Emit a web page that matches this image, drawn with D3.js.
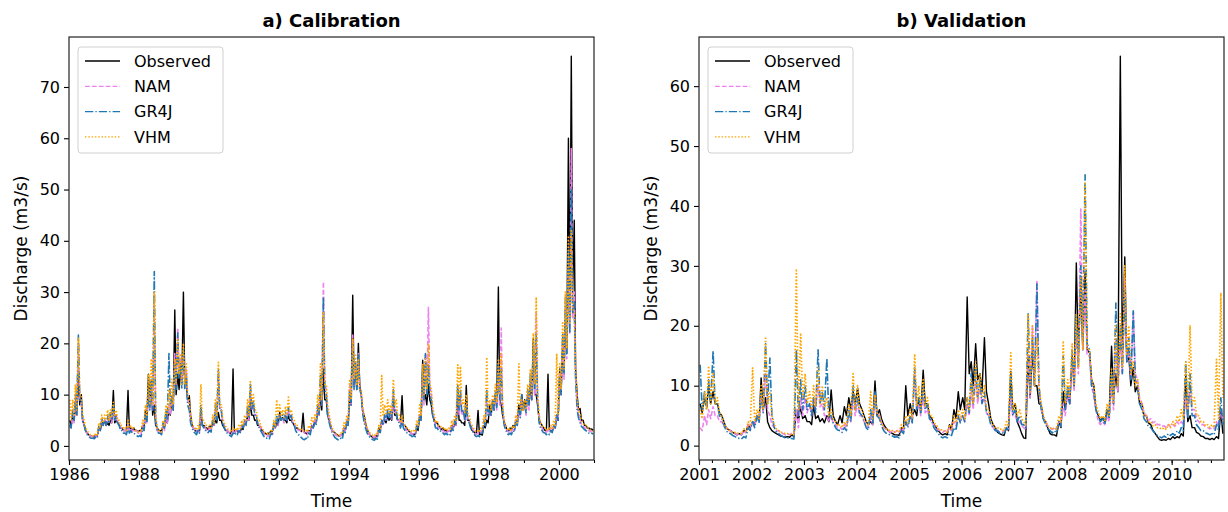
<!DOCTYPE html>
<html lang="en">
<head>
  <meta charset="UTF-8">
  <title>Calibration / Validation discharge</title>
  <script src="https://d3js.org/d3.v7.min.js"></script>
  <style>
    body { margin: 0; background: #fff; }
    text { font-family: "DejaVu Sans", sans-serif; fill: #000; }
  </style>
</head>
<body>
  <svg id="chart" width="1228" height="512"></svg>

  <script>
    // discharge (m3/s), one row per year, Jan..Dec.
    // *High = upper envelope within the month, *Low = base flow within the month
    const calYears = [1986, 1987, 1988, 1989, 1990, 1991, 1992, 1993, 1994, 1995, 1996, 1997, 1998, 1999, 2000];
    const calObsHigh = [
      [5, 6, 8, 14, 10, 4, 2.5, 2, 1.8, 2.2, 3.5, 4.5],
      [5, 4.5, 5, 10.8, 5, 4, 3.5, 3, 10.8, 3.5, 3.5, 3],
      [3, 4, 7, 14, 12.6, 8, 3.6, 3, 4, 5, 7, 9],
      [26.5, 14, 16, 30, 12, 9.8, 4, 3, 3, 7, 4, 3.5],
      [4, 4.5, 5, 6.5, 5, 3.5, 3, 2.5, 15, 3, 3, 3.5],
      [5, 6, 9, 6, 5, 4, 3, 2.5, 2.5, 3, 4, 4.5],
      [6.6, 5.5, 5, 6, 5, 4, 3.5, 3, 6.4, 2.5, 3, 4],
      [5, 7, 10, 15, 9, 5, 3, 2.5, 2, 2.2, 3.5, 4.5],
      [10, 29.4, 15, 20, 10, 5.9, 3, 2, 1.6, 2, 3.5, 5],
      [5, 6, 5.5, 9.5, 6, 5, 9.8, 4, 3, 2.5, 2.3, 3.5],
      [6, 16.7, 10, 12, 8, 5, 4.5, 3.5, 3.5, 3, 3, 4],
      [4.5, 10, 5, 4.5, 11.8, 5, 3, 2.5, 6.9, 2.3, 4, 5],
      [8, 9, 10, 31, 8, 4.5, 3, 3.5, 4, 5, 8, 10],
      [9, 10, 12, 20.9, 10, 5, 4, 3, 14, 3, 4, 6],
      [15, 20, 25, 60, 76, 44, 10, 7.3, 5, 4, 3.5, 3.3]
    ];
    const calObsLow = [
      [4, 5, 6, 8, 5, 3, 2.2, 1.9, 1.7, 2, 3, 4],
      [4, 4, 4.5, 4.5, 4.5, 3.5, 3, 2.8, 3, 3, 3, 2.8],
      [2.8, 3.5, 5, 8, 6, 4, 3, 2.8, 3.5, 4.5, 6, 7],
      [10, 11, 12, 13, 9, 6, 3.5, 2.8, 2.8, 4, 3.5, 3.2],
      [3.5, 4, 4.5, 5, 4, 3, 2.7, 2.3, 2.5, 2.8, 2.8, 3.2],
      [4.5, 5, 6, 5, 4, 3.5, 2.7, 2.3, 2.3, 2.8, 3.5, 4],
      [5, 5, 4.5, 5, 4.5, 3.5, 3.2, 2.8, 2.6, 2.3, 2.8, 3.5],
      [4.5, 6, 7, 9, 6, 4, 2.8, 2.3, 1.9, 2, 3, 4],
      [8, 12, 11, 12, 7, 4.5, 2.7, 1.9, 1.5, 1.8, 3, 4.5],
      [4.5, 5, 5, 6, 5, 4.5, 4, 3.5, 2.8, 2.3, 2.2, 3],
      [5, 9, 8, 9, 6, 4.5, 4, 3.2, 3, 2.8, 2.8, 3.5],
      [4, 5, 4.5, 4, 5, 4, 2.8, 2.3, 2.2, 2.1, 3.5, 4.5],
      [6, 7, 8, 9, 6, 4, 2.8, 3, 3.5, 4.5, 6, 7],
      [7, 8, 9, 10, 8, 4.5, 3.5, 2.8, 3, 2.8, 3.5, 5],
      [10, 14, 18, 25, 30, 15, 7, 5, 4, 3.5, 3.2, 3]
    ];
    const calNamHigh = [
      [4, 6, 9, 20, 8, 4, 2.5, 2, 1.8, 2, 3.5, 5],
      [5, 5.5, 6, 7, 6, 4.5, 3.5, 3, 4, 3.5, 3, 3],
      [2.5, 4, 6, 10, 12, 28, 3, 2.5, 4, 6, 8, 10],
      [18, 23, 17, 18, 15, 8, 4, 3, 3, 6, 4, 3],
      [3.5, 5, 7, 14, 7, 4, 3, 2.5, 3, 3, 3, 4],
      [5, 7, 11, 8, 6, 4, 3, 2, 2, 2.5, 4, 5],
      [6, 5.5, 6, 7, 6, 4.5, 3.5, 3, 3, 2.5, 3, 4],
      [5, 8, 13, 32, 11, 5, 3, 2.3, 2, 2.2, 3.5, 5],
      [12, 21.6, 16, 18, 10, 5, 3, 2, 1.8, 2, 3, 4.5],
      [6, 7, 6.5, 10, 7, 5, 5, 3.5, 3, 2.5, 2.5, 4],
      [6, 14, 18, 27, 10, 5, 4, 3.5, 3, 3, 3, 4],
      [5, 11, 10, 7, 8, 5, 3.5, 2.5, 2.5, 3, 5, 10],
      [7, 9, 10, 14, 23, 4.5, 3, 3, 3.5, 5, 7, 9],
      [8, 10, 13, 18, 26, 5, 3.5, 3, 3, 3.5, 4, 6],
      [14, 20, 28, 35, 58, 30, 8, 5, 4, 3.5, 3, 3]
    ];
    const calNamLow = [
      [3.5, 4.5, 6, 9, 5, 3, 2.2, 1.8, 1.6, 1.8, 3, 4],
      [4, 4.5, 4.5, 5, 4.5, 3.5, 3, 2.7, 3, 3, 2.7, 2.5],
      [2.3, 3, 4.5, 7, 7, 6, 2.7, 2.3, 3, 4.5, 6, 7],
      [12, 14, 12, 12, 9, 5, 3.5, 2.7, 2.7, 4, 3.5, 2.8],
      [3, 4, 5, 7, 5, 3.5, 2.7, 2.3, 2.5, 2.6, 2.7, 3.5],
      [4, 5, 7, 6, 4.5, 3.5, 2.5, 1.8, 1.8, 2.2, 3.5, 4],
      [5, 4.5, 5, 5.5, 4.5, 3.5, 3, 2.7, 2.5, 2.2, 2.7, 3.5],
      [4.5, 6, 8, 12, 7, 4, 2.6, 2, 1.8, 2, 3, 4],
      [8, 12, 11, 11, 7, 4, 2.6, 1.8, 1.6, 1.8, 2.7, 4],
      [5, 5.5, 5, 6.5, 5, 4, 4, 3, 2.7, 2.3, 2.3, 3.5],
      [5, 8, 10, 12, 7, 4, 3.5, 3, 2.7, 2.7, 2.7, 3.5],
      [4, 6, 6, 5, 5, 4, 3, 2.3, 2.3, 2.6, 4, 6],
      [6, 7, 7, 8, 7, 3.5, 2.7, 2.7, 3, 4, 5.5, 7],
      [6, 7, 9, 10, 9, 4, 3, 2.7, 2.7, 3, 3.5, 5],
      [10, 13, 17, 22, 25, 14, 6, 4.2, 3.5, 3.2, 2.8, 2.7]
    ];
    const calGr4jHigh = [
      [4, 7, 10, 21.6, 9, 4, 2.2, 1.6, 1.5, 1.8, 4, 5.5],
      [5, 6, 6.5, 8, 6, 4, 3, 2.5, 3.5, 3, 2.5, 2],
      [2, 3.5, 6, 11, 13, 34, 3, 2.5, 4.5, 7, 18, 10],
      [16, 22, 16, 19, 14, 7, 3.5, 2.5, 3, 8, 3.5, 3],
      [3, 5, 8, 15, 7, 3.5, 2.5, 2, 2.5, 2.5, 3, 4],
      [5, 8, 12, 9, 6, 3.5, 2.5, 1.6, 1.6, 2.5, 4.5, 6],
      [6, 6, 6.5, 7.5, 6, 4, 2.5, 1.8, 1.3, 1.5, 2.5, 4],
      [4.5, 8, 14, 29, 10, 4.5, 2.5, 1.6, 1.2, 1.5, 3, 5],
      [11, 20, 17, 18, 10, 4.5, 2.5, 1.6, 1.2, 1.5, 3, 5],
      [6, 7, 7, 11, 7, 4.5, 5, 3, 2.5, 2, 2, 4],
      [6, 15, 18, 16, 9, 4.5, 3.5, 3, 2.5, 2.5, 2.5, 3.5],
      [5, 12, 11, 7, 8, 4.5, 3, 2, 2, 2.5, 5, 11],
      [7, 9, 11, 16, 15, 4, 2.5, 2.5, 3, 5, 7, 10],
      [8, 11, 14, 20, 22, 4.5, 3, 2.5, 2.5, 3, 4, 6],
      [13, 22, 29, 38, 50, 28, 7, 4.5, 3.5, 3, 2.5, 2.5]
    ];
    const calGr4jLow = [
      [3.5, 5, 6, 9, 5, 3, 1.9, 1.5, 1.4, 1.6, 3, 4],
      [4, 4.5, 5, 5, 4.5, 3, 2.5, 2.2, 2.5, 2.5, 2.2, 1.8],
      [1.8, 3, 4.5, 7, 7, 5, 2.5, 2.2, 3.5, 5, 8, 7],
      [11, 13, 11, 11, 8, 4.5, 2.8, 2.2, 2.5, 4, 3, 2.6],
      [2.7, 4, 5, 7, 4.5, 3, 2.2, 1.8, 2.1, 2.2, 2.6, 3.5],
      [4, 5.5, 7, 6, 4.5, 3, 2, 1.5, 1.4, 2, 3.5, 4.5],
      [5, 5, 5, 5.5, 4.5, 3, 2.2, 1.6, 1.2, 1.3, 2.2, 3.5],
      [4, 6, 8, 11, 6, 3.5, 2.1, 1.4, 1.1, 1.3, 2.6, 4],
      [8, 11, 11, 11, 6.5, 3.5, 2.1, 1.4, 1.1, 1.3, 2.6, 4],
      [5, 5.5, 5.5, 7, 5, 3.5, 3.5, 2.6, 2.2, 1.8, 1.8, 3.2],
      [5, 9, 10, 10, 6, 3.5, 3, 2.6, 2.2, 2.2, 2.2, 3],
      [4, 7, 6.5, 5, 5, 3.5, 2.5, 1.8, 1.8, 2.2, 4, 6],
      [6, 7, 7.5, 9, 7, 3.2, 2.2, 2.2, 2.7, 4, 5.5, 7],
      [6.5, 8, 9, 11, 9, 3.5, 2.6, 2.2, 2.2, 2.6, 3.5, 5],
      [10, 14, 18, 22, 26, 13, 5.5, 3.8, 3.2, 2.7, 2.3, 2.3]
    ];
    const calVhmHigh = [
      [9, 9, 12, 21, 10, 5, 3, 2.2, 2, 2.5, 4.5, 6],
      [6, 7, 7, 8.5, 7, 5, 4, 3.5, 5, 4, 3.5, 3],
      [3, 5, 8, 14, 17, 30, 3.5, 3, 5, 8, 11, 13],
      [17, 21, 18, 20, 16, 9, 4.5, 3.5, 4, 12, 5, 4],
      [4, 6, 9, 16.3, 8, 4.5, 3.5, 3, 3.5, 3.5, 4, 5],
      [6, 9, 12.8, 10, 7, 5, 3.5, 2.5, 2.5, 3, 5, 9],
      [8, 7, 7.5, 9.5, 7, 5, 4, 3.5, 3, 3, 4, 5.5],
      [6, 10, 16, 26, 12, 6, 3.5, 2.5, 2.3, 2.5, 4.5, 6],
      [13, 21, 18, 17, 11, 6, 3.5, 2.5, 2, 2.5, 4, 13.7],
      [8, 9, 8, 13, 9, 6, 6, 4, 3.5, 3, 3, 5],
      [8, 16, 17, 20, 11, 6, 5, 4, 3.5, 3.5, 3.5, 5],
      [6, 15.8, 15.5, 9, 10, 6, 4, 3, 3, 3.5, 6, 17.3],
      [9, 10, 12, 17, 18, 5, 3.5, 3.5, 4, 6, 16, 9],
      [9, 12, 15, 22, 29, 6, 4, 3.5, 3.5, 4, 5, 18],
      [16, 24, 30, 41, 42, 26, 9, 6, 4.5, 4, 3.5, 3]
    ];
    const calVhmLow = [
      [5, 6, 7, 10, 6, 3.5, 2.6, 2.1, 1.9, 2.2, 3.5, 4.5],
      [5, 5, 5.5, 6, 5, 4, 3.3, 3, 3.5, 3.3, 3, 2.7],
      [2.7, 4, 6, 8, 8, 6, 3, 2.7, 4, 6, 7, 8],
      [12, 14, 12, 12, 10, 6, 3.8, 3.1, 3.3, 5, 4, 3.5],
      [3.5, 4.5, 6, 8, 5.5, 3.8, 3.1, 2.7, 3, 3, 3.4, 4],
      [5, 6, 8, 7, 5, 4, 3, 2.3, 2.3, 2.7, 4, 5.5],
      [6, 5.5, 6, 6.5, 5.5, 4, 3.4, 3.1, 2.8, 2.7, 3.4, 4.5],
      [5, 7, 9, 12, 8, 4.5, 3, 2.3, 2.1, 2.3, 3.5, 5],
      [9, 13, 12, 11, 7.5, 4.5, 3, 2.3, 1.9, 2.2, 3.4, 6],
      [6, 6.5, 6, 8, 6, 4.5, 4.5, 3.5, 3, 2.7, 2.7, 4],
      [6, 10, 11, 12, 7.5, 4.5, 4, 3.5, 3.1, 3.1, 3.1, 4],
      [5, 8, 8, 6.5, 6.5, 4.5, 3.5, 2.7, 2.7, 3.1, 4.5, 7],
      [7, 8, 8.5, 10, 8, 4, 3, 3.1, 3.4, 4.5, 7, 7],
      [7, 9, 10, 12, 10, 4.5, 3.5, 3.1, 3.1, 3.4, 4, 6],
      [11, 15, 19, 24, 27, 15, 7, 5, 4, 3.5, 3.1, 2.8]
    ];

    const valYears = [2001, 2002, 2003, 2004, 2005, 2006, 2007, 2008, 2009, 2010];
    const valObsHigh = [
      [7, 8, 10, 9, 7, 5, 3, 2.5, 2, 2, 2.5, 3.5],
      [4, 5, 11.3, 8, 3, 2.2, 1.8, 1.5, 1.5, 1.8, 6, 6.5],
      [5, 4, 6.8, 5, 4.5, 5, 9.3, 4, 5, 6.5, 8, 9],
      [9.6, 6, 4, 4, 10.8, 6, 3.5, 2.5, 2, 1.8, 3, 10],
      [7, 6, 8, 12.6, 7, 4.5, 3, 2, 2, 3.5, 6, 9],
      [8, 24.8, 14, 17, 12, 18, 6.8, 3.5, 2.2, 1.8, 3, 12.4],
      [7, 3, 1.3, 15, 16, 10, 6.8, 4, 2, 1.8, 4, 9],
      [9, 15, 30.5, 27.5, 29, 15.5, 10, 5, 4.6, 6, 16.6, 12],
      [65, 31.5, 15, 13, 10, 7, 5, 3.5, 2, 1, 1, 1.2],
      [1.5, 1.5, 2, 11.9, 5, 3, 2, 1.5, 1.2, 1.2, 1.5, 6]
    ];
    const valObsLow = [
      [5.5, 6.5, 7, 7, 5.5, 4, 2.7, 2.2, 1.8, 1.8, 2.2, 3],
      [3.5, 4, 6, 4, 2.5, 2, 1.6, 1.4, 1.4, 1.5, 4, 4.5],
      [4, 3.5, 4.5, 4, 3.8, 4, 5, 3.5, 3.8, 5, 6, 7],
      [7, 5, 3.5, 3.5, 5, 4.5, 3, 2.2, 1.8, 1.7, 2.5, 5],
      [5, 5, 5.5, 7, 5, 3.5, 2.5, 1.8, 1.8, 2.5, 4.5, 6],
      [6, 12, 10, 11, 9, 9, 4.5, 3, 2, 1.7, 2.5, 6],
      [4, 2, 1.2, 8, 10, 7, 4.5, 3, 1.8, 1.6, 3, 6],
      [7, 10, 15, 16, 16, 11, 6, 4.2, 4, 5, 8, 9],
      [15, 14, 10, 9, 7, 5, 3.8, 2.6, 1.5, 0.9, 0.9, 1],
      [1.2, 1.3, 1.6, 4, 3, 2.2, 1.6, 1.2, 1, 1, 1.2, 2]
    ];
    const valNamHigh = [
      [3, 5, 6, 6.5, 5, 4, 3, 2.5, 2, 2, 2.5, 3.5],
      [4, 5, 8, 12, 5, 3, 2.5, 2, 2, 2, 6, 8],
      [8, 7, 8, 10, 7, 5, 5, 3.5, 3, 3.5, 5, 8],
      [7, 5, 3.5, 5, 8, 5, 3, 2.5, 2.5, 2.5, 3, 4],
      [5, 12, 7, 8, 6, 4, 3, 2.5, 2.5, 3, 4, 5],
      [5, 7, 9, 11, 10, 8, 5, 3, 2.5, 2.5, 3, 8],
      [5, 4, 3, 16, 20, 27.4, 6, 4, 3, 3, 4, 7],
      [9, 14, 20, 39.5, 26, 15, 8, 4, 4, 5, 10, 18],
      [18, 28, 16, 22.5, 11, 7, 5, 4.5, 4, 3.5, 3.3, 3.5],
      [3.5, 4, 4, 8, 10, 6, 4, 3.5, 3, 3, 4, 6]
    ];
    const valNamLow = [
      [2.5, 3.5, 4.5, 5, 4, 3.2, 2.5, 2.1, 1.8, 1.8, 2.2, 3],
      [3.2, 4, 5.5, 6, 3.5, 2.5, 2.1, 1.8, 1.8, 1.8, 3, 5],
      [5.5, 5, 6, 6.5, 5, 4, 3.8, 3, 2.7, 3, 4, 5],
      [5, 4, 3, 3.5, 5, 3.8, 2.7, 2.2, 2.2, 2.2, 2.6, 3.3],
      [4, 6, 5, 5.5, 4.5, 3.3, 2.6, 2.2, 2.2, 2.6, 3.3, 4],
      [4, 5, 6, 7, 7, 5.5, 3.8, 2.7, 2.3, 2.3, 2.7, 5],
      [4, 3.3, 2.7, 8, 10, 10, 4.5, 3.3, 2.7, 2.7, 3.3, 5],
      [7, 9, 12, 16, 15, 10, 6, 3.5, 3.5, 4, 6, 9],
      [12, 14, 11, 12, 8, 5.5, 4.2, 3.8, 3.5, 3.2, 3, 3.2],
      [3.2, 3.5, 3.5, 5, 6, 4.5, 3.5, 3.2, 2.8, 2.8, 3.3, 4]
    ];
    const valGr4jHigh = [
      [13.5, 9, 11, 15.8, 7, 4.5, 2.5, 2, 1.5, 1.2, 1.5, 3],
      [4, 5, 9, 17, 14.6, 3, 2, 1.5, 1.3, 1.2, 16, 11],
      [10, 7, 8, 16, 9, 14.6, 5, 3, 2.5, 3, 6, 10],
      [8, 5, 3, 6, 9, 4.5, 2.5, 2, 1.6, 1.5, 2.5, 4],
      [5, 13, 8, 10, 7, 4, 2.5, 1.5, 1.5, 2, 3, 5],
      [5, 8, 12, 13, 11, 9, 5, 3, 2.5, 2.2, 3, 12],
      [6, 5, 3.5, 22, 18, 27, 6, 3.5, 2.5, 2.5, 4, 15],
      [10, 16, 22, 30, 45.2, 16, 9, 5, 4.5, 6, 12, 23.8],
      [20, 26, 18, 22.5, 10, 6, 4, 3, 2, 1.5, 1.6, 2],
      [2, 2.5, 3, 14, 12, 5, 3, 2.5, 2, 2, 3.5, 8]
    ];
    const valGr4jLow = [
      [6, 6, 7, 7, 5, 3.5, 2.1, 1.7, 1.3, 1.1, 1.3, 2.5],
      [3, 3.8, 5.5, 7, 5, 2.3, 1.7, 1.3, 1.2, 1.1, 5, 6],
      [6, 5, 5.5, 7, 6, 5, 3.8, 2.6, 2.2, 2.5, 4, 6],
      [5.5, 4, 2.6, 3.8, 5, 3.3, 2.1, 1.7, 1.4, 1.3, 2, 3],
      [3.8, 6, 5.5, 6, 4.5, 3, 2, 1.3, 1.3, 1.7, 2.5, 3.8],
      [4, 5.5, 7, 8, 7, 5.5, 3.5, 2.5, 2.1, 1.9, 2.5, 5],
      [4, 3.5, 3, 9, 10, 10, 4.5, 2.8, 2.1, 2.1, 3.2, 6],
      [7, 10, 13, 17, 17, 10, 6, 4, 3.5, 4.5, 7, 10],
      [12, 14, 11, 11, 7, 4.5, 3.2, 2.5, 1.7, 1.3, 1.4, 1.7],
      [1.7, 2.1, 2.5, 4.5, 5, 3.5, 2.5, 2.1, 1.8, 1.8, 2.6, 3.5]
    ];
    const valVhmHigh = [
      [6, 9, 13.3, 12, 8, 5, 3, 2.5, 2.2, 2.2, 2.8, 4],
      [13, 6, 10, 18.2, 9, 3.5, 2.5, 2.2, 2, 2, 29.5, 18.8],
      [12, 9, 10, 13, 10, 8, 6, 4, 3.5, 4, 7, 12],
      [10, 6, 4, 9, 8.5, 5, 3, 2.8, 2.5, 2.5, 3.5, 5],
      [6, 15.3, 10, 11, 8, 5, 3.5, 2.8, 2.5, 3.5, 5, 6],
      [6, 8, 11, 14, 12, 10, 6, 3.5, 3, 2.8, 4, 15.5],
      [7, 6, 4, 22, 20, 18, 7, 4, 3, 3, 5, 17.5],
      [11, 17, 22, 28, 44, 16, 10, 5.5, 5, 7, 13, 20],
      [22, 30, 20, 14, 11, 7, 5, 4, 3.5, 3, 3, 3.5],
      [4, 5, 6, 14, 20.1, 8, 5, 4, 3.5, 3.5, 14.4, 25.5]
    ];
    const valVhmLow = [
      [4.5, 6, 7, 7, 5.5, 3.8, 2.6, 2.2, 2, 2, 2.4, 3.2],
      [4, 4.5, 6, 7, 5, 2.8, 2.2, 2, 1.8, 1.8, 6, 8],
      [7, 6, 6.5, 7, 6.5, 5, 4.5, 3.3, 3, 3.3, 5, 6],
      [6, 4.5, 3.3, 4.5, 5.5, 3.8, 2.7, 2.4, 2.2, 2.2, 2.8, 3.8],
      [4.5, 6.5, 6, 6.5, 5, 3.8, 2.8, 2.4, 2.2, 2.8, 3.8, 4.5],
      [4.5, 6, 7, 8, 8, 6, 4.2, 3, 2.7, 2.5, 3.2, 6],
      [5, 4.5, 3.5, 9, 10, 10, 5, 3.3, 2.7, 2.7, 3.8, 7],
      [8, 10, 13, 16, 16, 11, 7, 4.5, 4.2, 5, 7, 10],
      [13, 15, 12, 10, 7.5, 5, 4, 3.3, 3, 2.7, 2.7, 3],
      [3.3, 4, 4.5, 6, 7, 5, 4, 3.3, 3, 3, 4.5, 8]
    ];

    const seriesNames = ["Observed", "NAM", "GR4J", "VHM"];
    const calTicksY = [0, 10, 20, 30, 40, 50, 60, 70];
    const valTicksY = [0, 10, 20, 30, 40, 50, 60];

    // "width" is the legend sample, "plotWidth" the data line
    const styles = {
      Observed: { color: "#000000", width: 1.3, plotWidth: 1.4, dash: null },
      NAM:      { color: "#ee82ee", width: 1.3, plotWidth: 1.6, dash: "4.8,2.1" },
      GR4J:     { color: "#1f77b4", width: 1.3, plotWidth: 1.6, dash: "8.3,2.1,1.3,2.1" },
      VHM:      { color: "#ffa500", width: 1.3, plotWidth: 1.7, dash: "1.5,1.8" }
    };

    const svg = d3.select("#chart");

    // each month gives two points: its high early on, its base flow later
    const toPoints = (years, highs, lows) =>
      highs.flatMap((row, i) => row.flatMap((v, m) => [
        { t: new Date(years[i], m, 9), v },
        { t: new Date(years[i], m, 23), v: lows[i][m] }
      ]));

    function drawPanel(opt) {
      const { left, right, top, bottom } = opt;
      const g = svg.append("g");

      const x = d3.scaleTime().domain(opt.xDomain).range([left, right]);
      const y = d3.scaleLinear().domain(opt.yDomain).range([bottom, top]);

      g.append("clipPath").attr("id", opt.id + "-clip")
        .append("rect").attr("x", left).attr("y", top)
        .attr("width", right - left).attr("height", bottom - top);

      const line = d3.line().x(d => x(d.t)).y(d => y(d.v));
      const lines = g.append("g").attr("clip-path", `url(#${opt.id}-clip)`);

      opt.series.forEach(([highs, lows], i) => {
        const s = styles[seriesNames[i]];
        lines.append("path")
          .datum(toPoints(opt.years, highs, lows))
          .attr("fill", "none")
          .attr("stroke", s.color)
          .attr("stroke-width", s.plotWidth)
          .attr("stroke-dasharray", s.dash)
          .attr("stroke-linejoin", "round")
          .attr("d", line);
      });

      // axes
      const yAxis = g.append("g").attr("transform", `translate(${left},0)`)
        .call(d3.axisLeft(y).tickValues(opt.yTicks).tickSize(5).tickPadding(4));
      const xAxis = g.append("g").attr("transform", `translate(0,${bottom})`)
        .call(d3.axisBottom(x).tickValues(opt.xMajor).tickSize(5).tickPadding(4)
          .tickFormat(d3.timeFormat("%Y")));
      const xMinor = g.append("g").attr("transform", `translate(0,${bottom})`)
        .call(d3.axisBottom(x).tickValues(opt.xMinor).tickSize(3).tickFormat(""));

      [yAxis, xAxis, xMinor].forEach(a => {
        a.select(".domain").remove();
        a.selectAll("line").attr("stroke", "#000").attr("stroke-width", 1.1);
        a.selectAll("text").style("font-size", "16px").attr("fill", "#111");
      });

      g.append("rect")
        .attr("x", left).attr("y", top)
        .attr("width", right - left).attr("height", bottom - top)
        .attr("fill", "none").attr("stroke", "#222").attr("stroke-width", 1.2);

      g.append("text")
        .attr("x", (left + right) / 2).attr("y", 27)
        .attr("text-anchor", "middle")
        .style("font-size", "18px").style("font-weight", "bold")
        .text(opt.title);

      g.append("text")
        .attr("x", (left + right) / 2).attr("y", 507)
        .attr("text-anchor", "middle")
        .style("font-size", "17px")
        .text("Time");

      g.append("text")
        .attr("transform", `translate(${left - 42},${(top + bottom) / 2}) rotate(-90)`)
        .attr("text-anchor", "middle")
        .style("font-size", "17px")
        .text("Discharge (m3/s)");

      // legend
      const lg = g.append("g").attr("transform", `translate(${left + 9},${top + 10})`);
      lg.append("rect")
        .attr("width", 145).attr("height", 106).attr("rx", 3)
        .attr("fill", "#fff").attr("fill-opacity", 0.8)
        .attr("stroke", "#d0d0d0").attr("stroke-width", 1);
      const item = lg.selectAll(".item").data(seriesNames).join("g")
        .attr("class", "item")
        .attr("transform", (d, i) => `translate(0,${14 + i * 25.3})`);
      item.append("line")
        .attr("x1", 7).attr("x2", 42)
        .attr("stroke", d => styles[d].color)
        .attr("stroke-width", d => styles[d].width)
        .attr("stroke-dasharray", d => styles[d].dash);
      item.append("text")
        .attr("x", 56).attr("dy", "0.35em")
        .style("font-size", "16px")
        .text(d => d);
    }

    drawPanel({
      id: "cal", title: "a) Calibration",
      left: 69, right: 594, top: 37, bottom: 460,
      xDomain: [new Date(1986, 0, 1), new Date(2001, 0, 1)],
      yDomain: [-2.75, 79.75],
      yTicks: calTicksY,
      xMajor: d3.timeYear.every(2).range(new Date(1986, 0, 1), new Date(2001, 0, 2)),
      xMinor: d3.timeYear.range(new Date(1986, 0, 1), new Date(2001, 0, 2)),
      years: calYears,
      series: [[calObsHigh, calObsLow], [calNamHigh, calNamLow],
               [calGr4jHigh, calGr4jLow], [calVhmHigh, calVhmLow]]
    });

    drawPanel({
      id: "val", title: "b) Validation",
      left: 699, right: 1224, top: 37, bottom: 460,
      xDomain: [new Date(2001, 0, 1), new Date(2010, 11, 31)],
      yDomain: [-2.4, 68.2],
      yTicks: valTicksY,
      xMajor: d3.timeYear.range(new Date(2001, 0, 1), new Date(2011, 0, 1)),
      xMinor: d3.timeMonth.every(3).range(new Date(2001, 0, 1), new Date(2011, 0, 1)),
      years: valYears,
      series: [[valObsHigh, valObsLow], [valNamHigh, valNamLow],
               [valGr4jHigh, valGr4jLow], [valVhmHigh, valVhmLow]]
    });
  </script>
</body>
</html>
